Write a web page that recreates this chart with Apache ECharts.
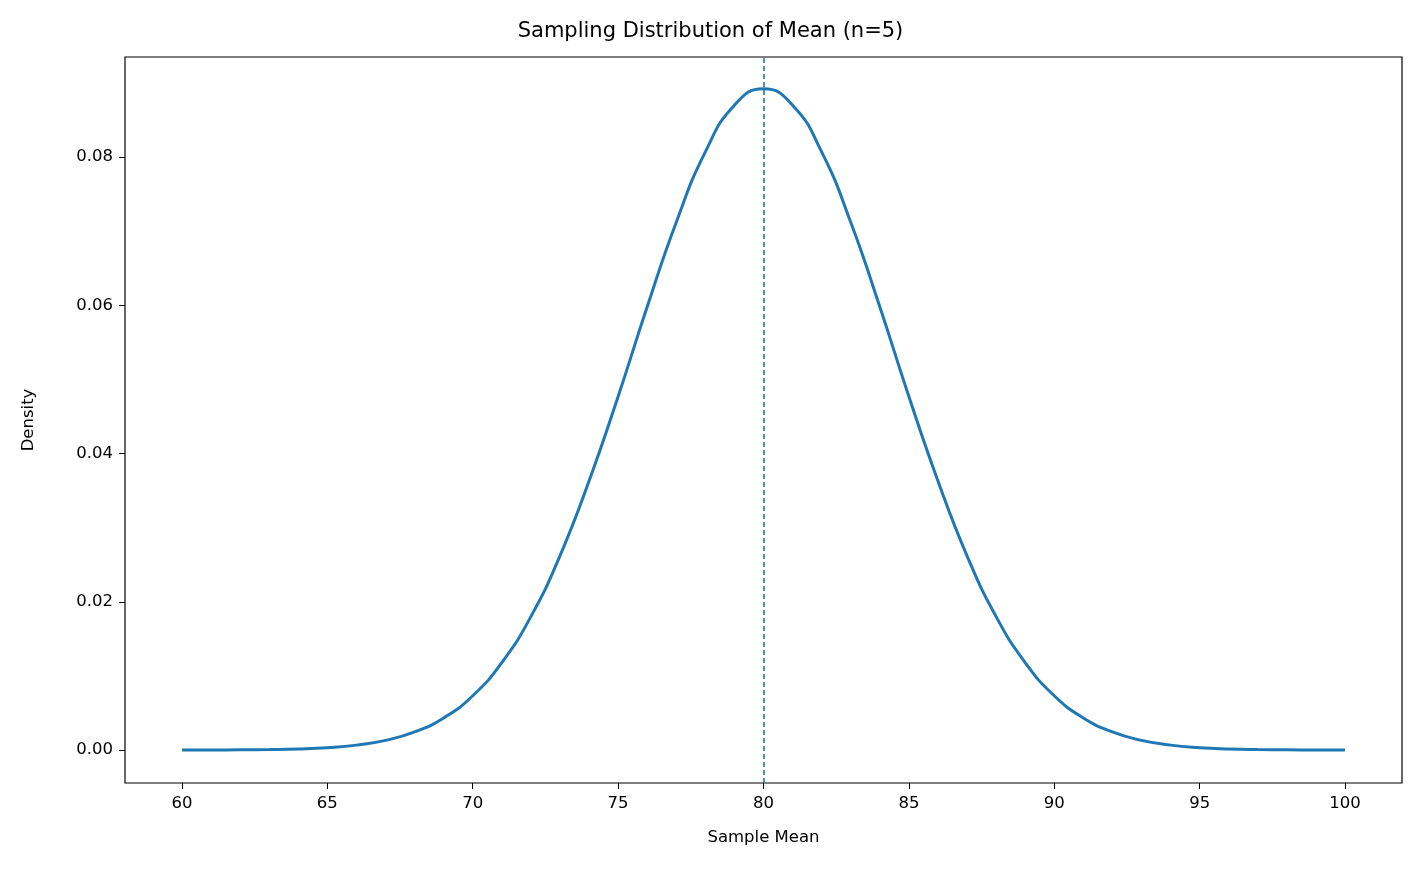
<!DOCTYPE html>
<html><head><meta charset="utf-8">
<script src="https://cdn.jsdelivr.net/npm/echarts@6/dist/echarts.min.js"></script>
<style>html,body{margin:0;background:#fff}#c{width:1421px;height:877px}</style>
</head><body><div id="c"></div>
<script>
// sample mean values and density
var xVals = [60,61,62,63,64,65,66,67,68,69,70,71,72,73,74,75,76,77,78,79,80,81,82,83,84,85,86,87,88,89,90,91,92,93,94,95,96,97,98,99,100];
var density = [0.000004,0.000011,0.000027,0.000065,0.00015,0.00032,0.00066,0.0013,0.00244,0.00433,0.00732,0.0118,0.018,0.0262,0.0363,0.0477,0.0598,0.0712,0.0807,0.087,0.0892,0.087,0.0807,0.0712,0.0598,0.0477,0.0363,0.0262,0.018,0.0118,0.00732,0.00433,0.00244,0.0013,0.00066,0.00032,0.00015,0.000065,0.000027,0.000011,0.000004];
var xTicks = [60,65,70,75,80,85,90,95,100];
var yTicks = [0,0.02,0.04,0.06,0.08];
var meanLine = 80;

var font = 'DejaVu Sans';
var chart = echarts.init(document.getElementById('c'));
chart.setOption({
  animation: false,
  title: {text: 'Sampling Distribution of Mean (n=5)', left: 'center', top: 16,
    textStyle: {fontFamily: font, fontSize: 21, fontWeight: 'normal', color: '#000'}},
  grid: {left: 125, right: 19, top: 57, bottom: 94, show: true, borderColor: '#000', borderWidth: 1.2},
  xAxis: {type: 'value', min: 58.04, max: 101.96, name: 'Sample Mean', nameLocation: 'middle', nameGap: 46,
    nameTextStyle: {fontFamily: font, fontSize: 16.5, color: '#000'},
    axisLine: {show: false, onZero: false}, splitLine: {show: false},
    axisTick: {customValues: xTicks, length: 6, lineStyle: {color: '#000'}},
    axisLabel: {customValues: xTicks, fontFamily: font, fontSize: 16.5, color: '#000', margin: 12}},
  yAxis: {type: 'value', min: -0.00445, max: 0.0935, name: 'Density', nameLocation: 'middle', nameGap: 88,
    nameTextStyle: {fontFamily: font, fontSize: 16.5, color: '#000'},
    axisLine: {show: false, onZero: false}, splitLine: {show: false},
    axisTick: {customValues: yTicks, length: 6, lineStyle: {color: '#000'}},
    axisLabel: {customValues: yTicks, fontFamily: font, fontSize: 16.5, color: '#000', margin: 12,
      formatter: function(v){ return v.toFixed(2); }}},
  series: [{type: 'line', data: xVals.map(function(x,i){ return [x, density[i]]; }),
    smooth: 0.5, showSymbol: false, lineStyle: {color: '#1f77b4', width: 3},
    markLine: {silent: true, symbol: 'none', label: {show: false},
      lineStyle: {color: '#1f77b4', type: [5, 3], width: 1.6},
      data: [{xAxis: meanLine}]}}]
});
</script></body></html>
